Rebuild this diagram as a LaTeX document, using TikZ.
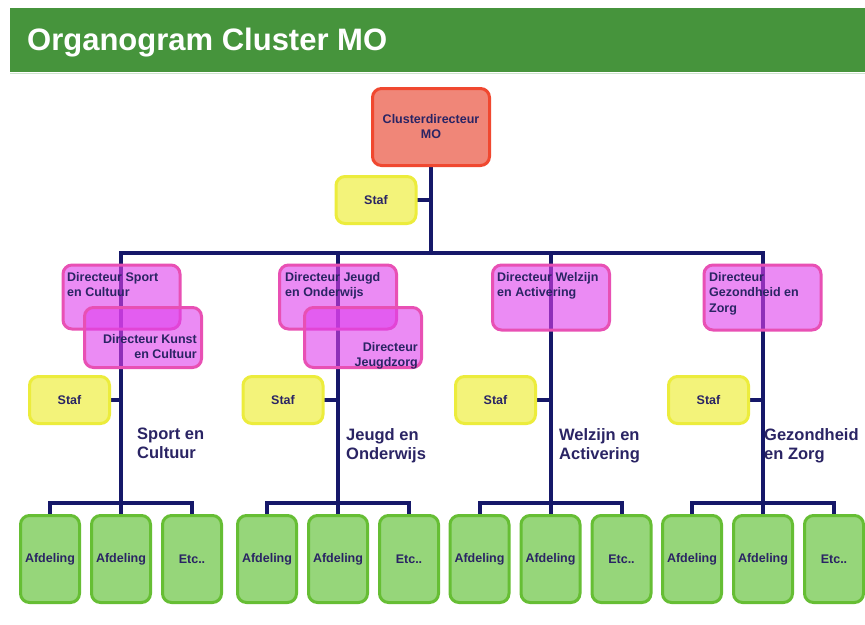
\documentclass[tikz,border=0pt]{standalone}
\usepackage{fontspec}
\setmainfont{Liberation Sans}
\usetikzlibrary{backgrounds}

\definecolor{band}{RGB}{70,148,60}
\definecolor{bandedge}{RGB}{205,228,205}
\definecolor{ink}{RGB}{42,36,100}
\definecolor{wirec}{RGB}{22,24,105}
\definecolor{cdfill}{RGB}{240,134,120}
\definecolor{cdline}{RGB}{240,72,48}
\definecolor{staffill}{RGB}{243,243,122}
\definecolor{stafline}{RGB}{236,236,60}
\definecolor{dirfill}{RGB}{223,63,238}
\definecolor{dirline}{RGB}{232,80,180}
\definecolor{depfill}{RGB}{150,214,122}
\definecolor{depline}{RGB}{102,190,52}

\tikzset{
  box/.style={rectangle, rounded corners=9pt, line width=3pt, inner sep=0pt,
    text=ink, align=center, font=\bfseries\fontsize{12.5}{15}\selectfont},
  clusterbox/.style={box, fill=cdfill, draw=cdline, minimum width=117pt, minimum height=77pt},
  stafbox/.style={box, fill=staffill, draw=stafline, minimum width=80pt, minimum height=47pt},
  dirbox/.style={box, fill=dirfill, fill opacity=0.6, draw=dirline, minimum width=117pt, minimum height=64pt},
  deptbox/.style={box, fill=depfill, draw=depline, minimum width=59pt, minimum height=87pt},
  dirtext/.style={inner sep=0pt, text=ink, font=\bfseries\fontsize{12.5}{15.5}\selectfont},
  grouplabel/.style={inner sep=0pt, text=ink, align=left, font=\bfseries\fontsize{16.5}{19}\selectfont},
  wire/.style={draw=wirec, line width=4pt, line cap=rect, line join=miter},
}

\begin{document}
\begin{tikzpicture}[x=1pt,y=-1pt]
\useasboundingbox (0,0) rectangle (865,624);

% title banner
\node[anchor=base west, inner sep=0pt, text=white,
      font=\bfseries\fontsize{31}{31}\selectfont] (title) at (27,50) {Organogram Cluster MO};

% cluster director and its staff
\node[clusterbox] (cd) at (431,127) {Clusterdirecteur\\MO};
\node[stafbox] (s0) at (376,200) {Staf};

% junctions on the main bus and on the department bars
\coordinate (t1) at (121,253);
\coordinate (t2) at (338,253);
\coordinate (t3) at (550.5,253);
\coordinate (t4) at (763,253);
\coordinate (b1) at (121,503);
\coordinate (b2) at (338,503);
\coordinate (b3) at (550.5,503);
\coordinate (b4) at (763,503);

% directors (translucent boxes)
\node[dirbox] (dsc) at (121.5,297) {};
\node[dirbox, minimum height=60pt] (dkc) at (143,337.5) {};
\node[dirbox] (djo) at (338,297) {};
\node[dirbox, minimum height=60pt] (djz) at (363,337.5) {};
\node[dirbox, minimum height=65pt] (dwa) at (551,297.5) {};
\node[dirbox, minimum height=65pt] (dgz) at (762.5,297.5) {};

\node[dirtext, anchor=north west, align=left] (dsc-t) at (67,272) {Directeur Sport\\en Cultuur};
\node[dirtext, anchor=north east, align=right] (dkc-t) at (197,334) {Directeur Kunst\\en Cultuur};
\node[dirtext, anchor=north west, align=left] (djo-t) at (285,272) {Directeur Jeugd\\en Onderwijs};
\node[dirtext, anchor=north east, align=right] (djz-t) at (418,342) {Directeur\\Jeugdzorg};
\node[dirtext, anchor=north west, align=left] (dwa-t) at (497,272) {Directeur Welzijn\\en Activering};
\node[dirtext, anchor=north west, align=left] (dgz-t) at (709,272) {Directeur\\Gezondheid en\\Zorg};

% staff of each sector
\node[stafbox] (s1) at (69.5,400) {Staf};
\node[stafbox] (s2) at (283,400) {Staf};
\node[stafbox] (s3) at (495.5,400) {Staf};
\node[stafbox] (s4) at (708.5,400) {Staf};

% sector names
\node[grouplabel, anchor=north west] (l1) at (137,428) {Sport en\\Cultuur};
\node[grouplabel, anchor=north west] (l2) at (346,428) {Jeugd en\\Onderwijs};
\node[grouplabel, anchor=north west] (l3) at (559,428) {Welzijn en\\Activering};
\node[grouplabel, anchor=north west] (l4) at (764,428) {Gezondheid\\en Zorg};

% departments
\foreach \g/\x in {1/121,2/338,3/550.5,4/763} {
  \node[deptbox] (a\g1) at (\x-71,559) {Afdeling};
  \node[deptbox] (a\g2) at (\x,559) {Afdeling};
  \node[deptbox] (a\g3) at (\x+71,559) {Etc..};
}

\begin{scope}[on background layer]
  \fill[white] (0,0) rectangle (865,624);
  \fill[band] (10,8) rectangle (865,72);
  \draw[bandedge, line width=1pt] (10,73.5) -- (865,73.5);
  \draw[wire] (cd.south) -- (cd.south |- t1);
  \draw[wire] (s0.east) -- (s0.east -| cd.south);
  \draw[wire] (t1) -- (t4);
  \foreach \g in {1,2,3,4} {
    \draw[wire] (t\g) -- (a\g2.north);
    \draw[wire] (a\g1.north) -- (a\g1.north |- b\g) -- (a\g3.north |- b\g) -- (a\g3.north);
    \draw[wire] (s\g.east) -- (s\g.east -| t\g);
  }
\end{scope}
\end{tikzpicture}
\end{document}
